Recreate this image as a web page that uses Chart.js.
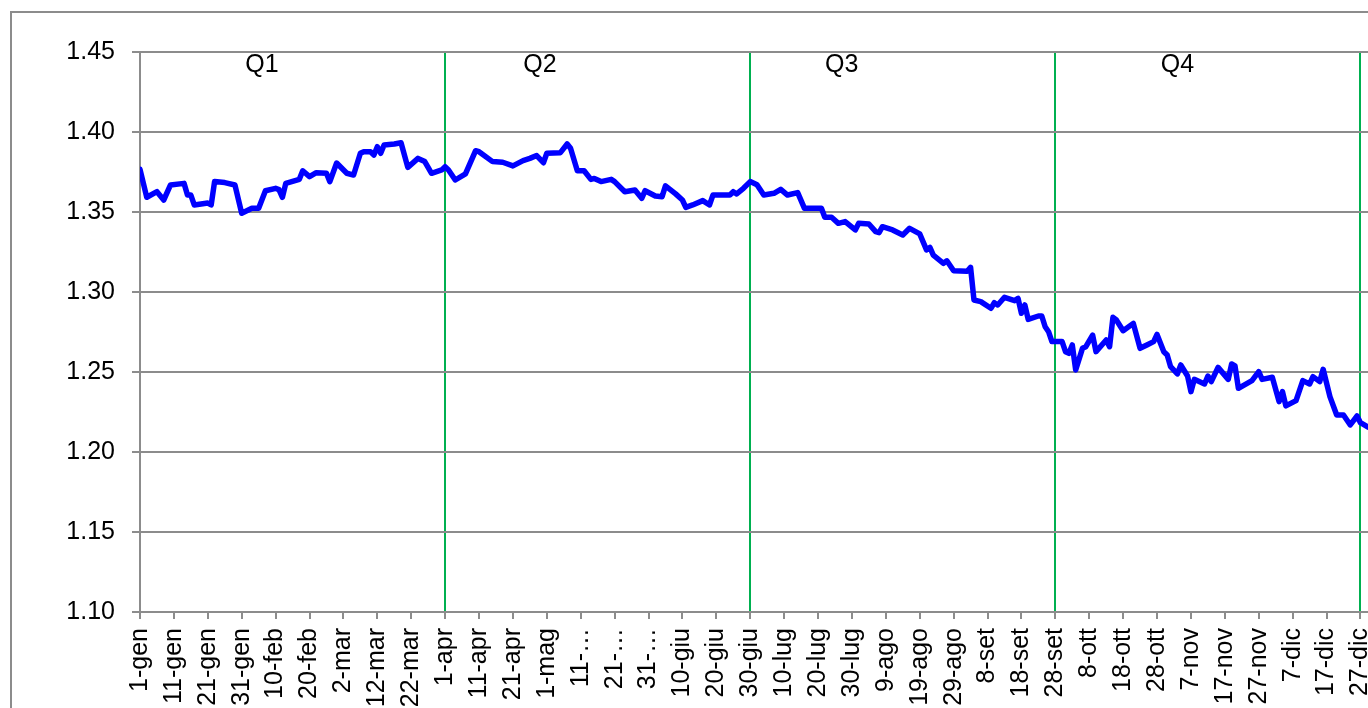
<!DOCTYPE html>
<html><head><meta charset="utf-8">
<script src="https://cdn.jsdelivr.net/npm/chart.js@4"></script>
<style>html,body{margin:0;padding:0;overflow:hidden;background:#fff}canvas{display:block}</style>
</head><body>
<canvas id="c" width="1420" height="740"></canvas>
<script>
// x tick positions (day of year, 0 = 1-gen) and their labels
const tickDays = [0,10,20,30,40,50,60,70,80,90,100,110,120,130,140,150,160,170,180,190,200,210,220,230,240,250,260,270,280,290,300,310,320,330,340,350,360];
const tickLabels = ['1-gen','11-gen','21-gen','31-gen','10-feb','20-feb','2-mar','12-mar','22-mar','1-apr','11-apr','21-apr','1-mag','11-…','21-…','31-…','10-giu','20-giu','30-giu','10-lug','20-lug','30-lug','9-ago','19-ago','29-ago','8-set','18-set','28-set','8-ott','18-ott','28-ott','7-nov','17-nov','27-nov','7-dic','17-dic','27-dic'];
const yTicks = [1.10,1.15,1.20,1.25,1.30,1.35,1.40,1.45];

// series: day of year and value
const days = [0,2,5,7,9,13,14,15,16,20,21,22,25,28,30,33,35,37,40,41,42,43,47,48,50,52,55,56,58,61,63,65,66,68,69,70,71,72,75,77,79,82,84,86,89,90,91,93,96,99,100,104,107,110,113,115,117,119,120,124,126,127,129,131,133,134,136,139,140,143,146,148,149,152,154,155,158,160,161,163,166,168,169,174,175,176,178,180,182,184,187,189,191,194,196,201,202,204,206,208,211,212,215,217,218,219,222,225,227,230,232,233,234,237,238,240,244,245,246,248,251,252,253,255,258,259,260,261,262,265,266,267,268,269,272,273,274,275,276,278,279,281,282,285,286,287,288,290,293,295,297,299,300,302,303,304,306,307,309,310,311,314,315,316,318,321,322,323,324,328,330,331,334,336,337,338,341,343,345,346,348,349,351,353,355,357,359,360,362,364];
const values = [1.3767,1.3592,1.3627,1.3575,1.3669,1.3679,1.3606,1.3606,1.3544,1.3556,1.3544,1.3690,1.3684,1.3669,1.3492,1.3523,1.3523,1.3633,1.3648,1.3640,1.3592,1.3679,1.3704,1.3758,1.3721,1.3746,1.3742,1.3690,1.3806,1.3742,1.3731,1.3867,1.3877,1.3877,1.3856,1.3908,1.3867,1.3919,1.3925,1.3933,1.3779,1.3835,1.3815,1.3742,1.3763,1.3783,1.3763,1.3700,1.3738,1.3883,1.3877,1.3815,1.3811,1.3788,1.3821,1.3835,1.3853,1.3808,1.3867,1.3871,1.3925,1.3898,1.3758,1.3758,1.3704,1.3710,1.3690,1.3704,1.3690,1.3627,1.3638,1.3585,1.3633,1.3600,1.3596,1.3663,1.3613,1.3575,1.3529,1.3544,1.3571,1.3544,1.3606,1.3606,1.3627,1.3613,1.3648,1.3690,1.3670,1.3606,1.3617,1.3642,1.3606,1.3621,1.3523,1.3523,1.3467,1.3467,1.3429,1.3440,1.3388,1.3429,1.3425,1.3377,1.3371,1.3408,1.3388,1.3356,1.3398,1.3363,1.3263,1.3279,1.3231,1.3179,1.3195,1.3133,1.3130,1.3154,1.2950,1.2940,1.2898,1.2933,1.2919,1.2967,1.2946,1.2960,1.2867,1.2919,1.2829,1.2850,1.2850,1.2783,1.2752,1.2690,1.2690,1.2627,1.2617,1.2669,1.2513,1.2648,1.2658,1.2731,1.2627,1.2700,1.2658,1.2842,1.2825,1.2758,1.2804,1.2648,1.2669,1.2690,1.2735,1.2627,1.2606,1.2533,1.2488,1.2544,1.2475,1.2377,1.2454,1.2425,1.2475,1.2440,1.2529,1.2454,1.2550,1.2538,1.2398,1.2446,1.2502,1.2454,1.2467,1.2315,1.2377,1.2288,1.2321,1.2446,1.2425,1.2471,1.2440,1.2517,1.2346,1.2231,1.2231,1.2169,1.2225,1.2183,1.2158,1.2140];

// quarter boundaries and quarter labels
const quarterDays = [90,180,270,360];
const quarterLabels = ['Q1','Q2','Q3','Q4'];
const quarterLabelDays = [36,118,207,306];
const quarterLabelValue = 1.4415;

const FONT = '"Liberation Sans", Arial, sans-serif';
Chart.defaults.font.family = FONT;
Chart.defaults.font.size = 25;
Chart.defaults.color = '#000';

const framePlugin = {
  id: 'frame',
  beforeDraw(chart) {
    const ctx = chart.ctx;
    ctx.save();
    ctx.fillStyle = '#fff';
    ctx.fillRect(0, 0, chart.width, chart.height);
    ctx.strokeStyle = '#8c8c8c';
    ctx.lineWidth = 2;
    ctx.strokeRect(11, 12, 2000, 2000);
    ctx.restore();
  }
};
const quarterText = {
  id: 'quarterText',
  afterDraw(chart) {
    const ctx = chart.ctx, xs = chart.scales.x, ys = chart.scales.y;
    ctx.save();
    ctx.font = '25px ' + FONT;
    ctx.fillStyle = '#000';
    ctx.textAlign = 'center';
    ctx.textBaseline = 'middle';
    quarterLabels.forEach((t, i) => {
      ctx.fillText(t, xs.getPixelForValue(quarterLabelDays[i]), ys.getPixelForValue(quarterLabelValue));
    });
    ctx.restore();
  }
};

new Chart(document.getElementById('c'), {
  type: 'line',
  data: {
    datasets: [{
      data: days.map((d, i) => ({ x: d, y: values[i] })),
      borderColor: '#0000FF',
      borderWidth: 5.5,
      pointRadius: 0,
      tension: 0,
      borderJoinStyle: 'round',
      borderCapStyle: 'round',
      fill: false
    }]
  },
  options: {
    responsive: false,
    animation: false,
    devicePixelRatio: 1,
    layout: { padding: { top: 52, right: 46, left: 0, bottom: 0 } },
    plugins: { legend: { display: false }, tooltip: { enabled: false } },
    scales: {
      x: {
        type: 'linear',
        min: 0,
        max: 364,
        afterBuildTicks: s => { s.ticks = tickDays.map(v => ({ value: v })); },
        afterFit: s => { s.height = 128; },
        ticks: {
          autoSkip: false,
          minRotation: 90,
          maxRotation: 90,
          padding: 9,
          callback: v => tickLabels[tickDays.indexOf(v)]
        },
        grid: {
          color: c => (c.tick && quarterDays.includes(c.tick.value)) ? '#00B050' : 'rgba(0,0,0,0)',
          lineWidth: 2,
          tickColor: '#8c8c8c',
          tickLength: 7
        },
        border: { display: true, color: '#8c8c8c', width: 2 }
      },
      y: {
        min: 1.10,
        max: 1.45,
        afterBuildTicks: s => { s.ticks = yTicks.map(v => ({ value: v })); },
        afterFit: s => { s.width = 140; },
        ticks: { padding: 17, callback: v => v.toFixed(2) },
        grid: { color: '#8c8c8c', lineWidth: 2, tickColor: '#8c8c8c', tickLength: 8 },
        border: { display: true, color: '#8c8c8c', width: 2 }
      }
    }
  },
  plugins: [framePlugin, quarterText]
});
</script>
</body></html>
